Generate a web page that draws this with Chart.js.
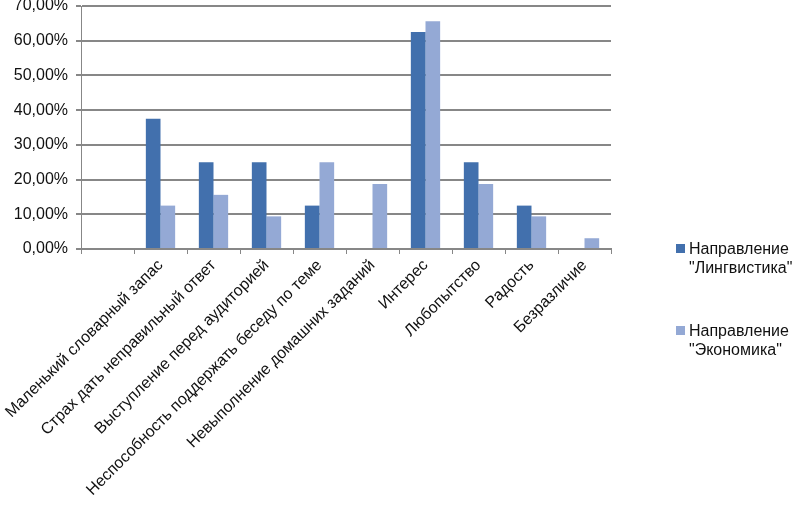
<!DOCTYPE html>
<html lang="ru">
<head>
<meta charset="utf-8">
<script src="https://cdn.jsdelivr.net/npm/chart.js@4/dist/chart.umd.min.js"></script>
<style>
  html, body { margin: 0; padding: 0; background: #fff; }
  #wrap { position: relative; width: 792px; height: 509px; overflow: hidden; }
  #chart { position: absolute; left: 0; top: 0; }
  .legend { position: absolute; left: 676px; font: 16px 'Liberation Sans', Arial, sans-serif; color: #111; line-height: 19px; }
  .legend i { position: absolute; left: 0; top: 5px; width: 9px; height: 9px; }
  .legend span { display: block; margin-left: 13px; white-space: pre; }
</style>
</head>
<body>
<div id="wrap">
  <canvas id="chart" width="792" height="509"></canvas>
</div>
<script>
const categories = [
  '',
  'Маленький словарный запас',
  'Страх дать неправильный ответ',
  'Выступление перед аудиторией',
  'Неспособность поддержать беседу по теме',
  'Невыполнение домашних заданий',
  'Интерес',
  'Любопытство',
  'Радость',
  'Безразличие',
];
const seriesNames = ['Направление\n"Лингвистика"', 'Направление\n"Экономика"'];
const lingvistika = [null, 37.5, 25, 25, 12.5, 0, 62.5, 25, 12.5, 0];
const ekonomika = [null, 12.5, 15.6, 9.4, 25, 18.75, 65.6, 18.75, 9.4, 3.1];
const yTicks = [0, 10, 20, 30, 40, 50, 60, 70];

const colors = ['#4270ad', '#94a9d5'];
const gridColor = '#878787';

Chart.defaults.font.family = "'Liberation Sans', Arial, sans-serif";
Chart.defaults.font.size = 16;
Chart.defaults.color = '#111';

const noPad = (scale) => {
  scale.paddingTop = 0;
  scale.paddingBottom = 0;
  scale.paddingLeft = 0;
  scale.paddingRight = 0;
};

new Chart(document.getElementById('chart'), {
  type: 'bar',
  data: {
    labels: categories,
    datasets: [
      { label: seriesNames[0], data: lingvistika, backgroundColor: colors[0] },
      { label: seriesNames[1], data: ekonomika, backgroundColor: colors[1] },
    ],
  },
  options: {
    responsive: false,
    animation: false,
    devicePixelRatio: 1,
    layout: { padding: { top: 6, right: 181, bottom: 0, left: 0 } },
    datasets: { bar: { categoryPercentage: 0.553, barPercentage: 1 } },
    plugins: { legend: { display: false }, tooltip: { enabled: false } },
    scales: {
      x: {
        grid: { drawOnChartArea: false, drawTicks: true, tickLength: 5, color: gridColor, lineWidth: 1 },
        border: { color: gridColor, width: 2 },
        ticks: { autoSkip: false, minRotation: 45, maxRotation: 45, padding: 2, color: '#111' },
        afterFit: (s) => { s.height = 260; noPad(s); },
      },
      y: {
        min: 0,
        max: 70,
        afterBuildTicks: (s) => { s.ticks = yTicks.map((v) => ({ value: v })); },
        grid: { color: gridColor, lineWidth: 2, tickLength: 5 },
        border: { color: gridColor, width: 1 },
        ticks: {
          padding: 8,
          color: '#111',
          callback: (v) => v.toFixed(2).replace('.', ',') + '%',
        },
        afterFit: (s) => { s.width = 81; noPad(s); },
      },
    },
  },
});

// legend on the right, two-line labels like the source
const wrap = document.getElementById('wrap');
const legendTops = [239, 321];
seriesNames.forEach((name, i) => {
  const el = document.createElement('div');
  el.className = 'legend';
  el.style.top = legendTops[i] + 'px';
  const box = document.createElement('i');
  box.style.background = colors[i];
  el.appendChild(box);
  name.split('\n').forEach((line) => {
    const sp = document.createElement('span');
    sp.textContent = line;
    el.appendChild(sp);
  });
  wrap.appendChild(el);
});
</script>
</body>
</html>
